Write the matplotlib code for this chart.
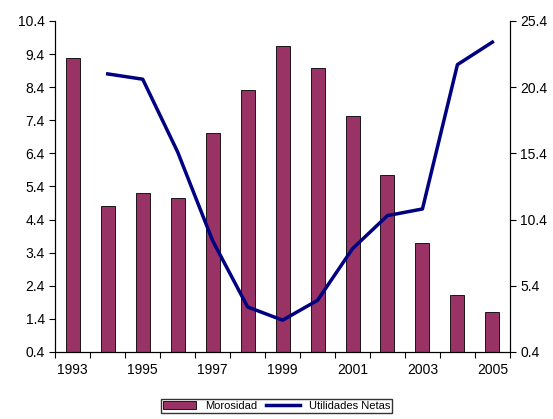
import matplotlib
matplotlib.use("Agg")
import matplotlib.pyplot as plt
import numpy as np

plt.rcParams['font.family'] = ['Liberation Sans', 'DejaVu Sans']

years = list(range(1993, 2006))
morosidad = [9.29, 4.8, 5.19, 5.04, 7.03, 8.32, 9.65, 8.98, 7.54, 5.76, 3.68, 2.12, 1.6]
util_years = list(range(1994, 2006))
utilidades = [21.4, 21.0, 15.5, 8.8, 3.8, 2.8, 4.3, 8.2, 10.7, 11.2, 22.1, 23.8]

fig = plt.figure(figsize=(5.53, 4.19), dpi=100)
ax = fig.add_axes([0.1, 0.16, 0.822, 0.79])
x = np.arange(len(years))
ax.bar(x, morosidad, width=0.4, color="#993366", edgecolor="black", linewidth=0.6, label="Morosidad")
ax.set_ylim(0.4, 10.4)
ax.set_yticks(np.arange(0.4, 10.41, 1.0))
ax.set_yticklabels([f"{v:.1f}" for v in np.arange(0.4, 10.41, 1.0)])
ax.set_xlim(-0.5, len(years) - 0.5)
ax.set_xticks(np.arange(-0.5, len(years), 1.0))
ax.set_xticklabels([])
ax.set_xticks(x, minor=True)
ax.set_xticklabels([str(y) if (y - 1993) % 2 == 0 else "" for y in years], minor=True)
ax.tick_params(axis="x", which="minor", length=0, labelsize=10, pad=8)
ax2 = ax.twinx()
ux = [years.index(y) for y in util_years]
ax2.plot(ux, utilidades, color="#000080", linewidth=2.5, label="Utilidades Netas")
ax2.set_ylim(0.4, 25.4)
ax2.set_yticks(np.arange(0.4, 25.41, 5))
ax2.set_yticklabels([f"{v:.1f}" for v in np.arange(0.4, 25.41, 5)])
for a in (ax, ax2):
    a.tick_params(which="major", labelsize=10, length=4, direction="out")
    a.spines["top"].set_visible(False)
    for s in a.spines.values():
        s.set_linewidth(0.8)
h1, l1 = ax.get_legend_handles_labels()
h2, l2 = ax2.get_legend_handles_labels()
fig.legend(h1 + h2, l1 + l2, loc="lower center", bbox_to_anchor=(0.5, 0.0), ncol=2,
           fontsize=8, frameon=True, fancybox=False, edgecolor="black",
           handlelength=3, borderpad=0.2, columnspacing=0.8)
fig.savefig("out.png", dpi=100)
